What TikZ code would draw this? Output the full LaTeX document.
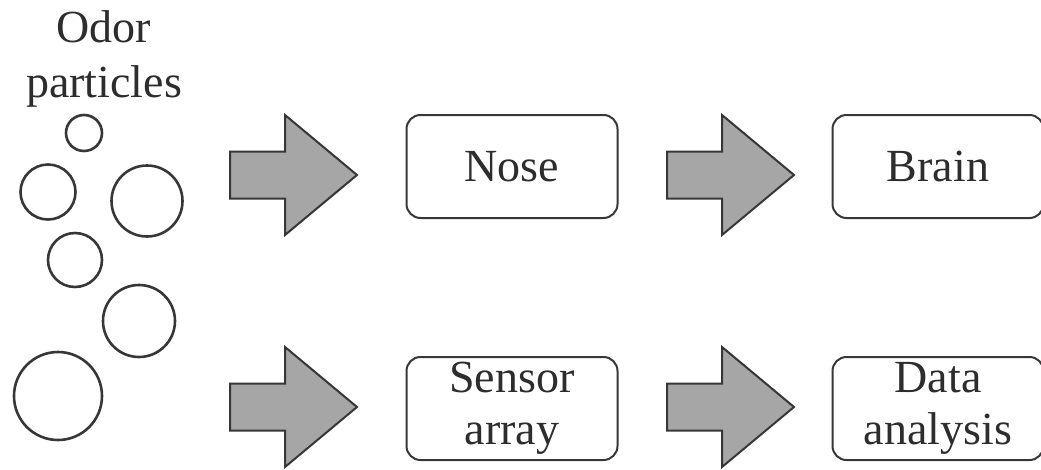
\documentclass[tikz,border=0pt]{standalone}
\usepackage{fontspec}
\setmainfont{Liberation Serif}
\usetikzlibrary{positioning}
\definecolor{cArrow}{RGB}{166,166,166}
\definecolor{cLine}{RGB}{55,55,55}
\definecolor{cText}{RGB}{45,45,45}
\tikzset{
	organ/.style   ={rectangle, rounded corners=14pt, draw=cLine, line width=2pt, minimum width=211pt, minimum height=103pt, text centered, align=center, text=cText, font=\fontsize{46}{52}\selectfont},
	particle/.style={circle, draw=cLine, line width=2.6pt, inner sep=0pt},
	% thick grey block arrow, drawn from its tail centre
	bigarrow/.pic  ={\draw[fill=cArrow, draw=cLine, line width=2pt, line join=miter] (0,-23.5) -- (55,-23.5) -- (55,-60) -- (127,0) -- (55,60) -- (55,23.5) -- (0,23.5) -- cycle;},
}

\begin{document}
\begin{tikzpicture}[x=1pt, y=-1pt, node distance=137pt and 213pt]
	\useasboundingbox (0,0) rectangle (1041,469);
	\node[align=center, text=cText, font=\fontsize{46}{55}\selectfont] (odor) at (104,59) {Odor\\particles};
	\node[particle, minimum size=36pt] (p1) at (84,133) {};
	\node[particle, minimum size=55pt] (p2) at (48,192) {};
	\node[particle, minimum size=71pt] (p3) at (147,201) {};
	\node[particle, minimum size=54pt] (p4) at (75,260) {};
	\node[particle, minimum size=72pt] (p5) at (139,321) {};
	\node[particle, minimum size=88pt] (p6) at (58,396) {};
	\node[organ] (nose) at (512,166.5) {Nose};
	\node[organ, right=of nose] (brain) {Brain};
	\node[organ, below=of nose] (sensor) {Sensor\\array};
	\node[organ, below=of brain] (data) {Data\\analysis};
	\pic (a1) at (230,175) {bigarrow};
	\pic (a2) at (667,175) {bigarrow};
	\pic (a3) at (230,407) {bigarrow};
	\pic (a4) at (667,407) {bigarrow};
\end{tikzpicture}
\end{document}
